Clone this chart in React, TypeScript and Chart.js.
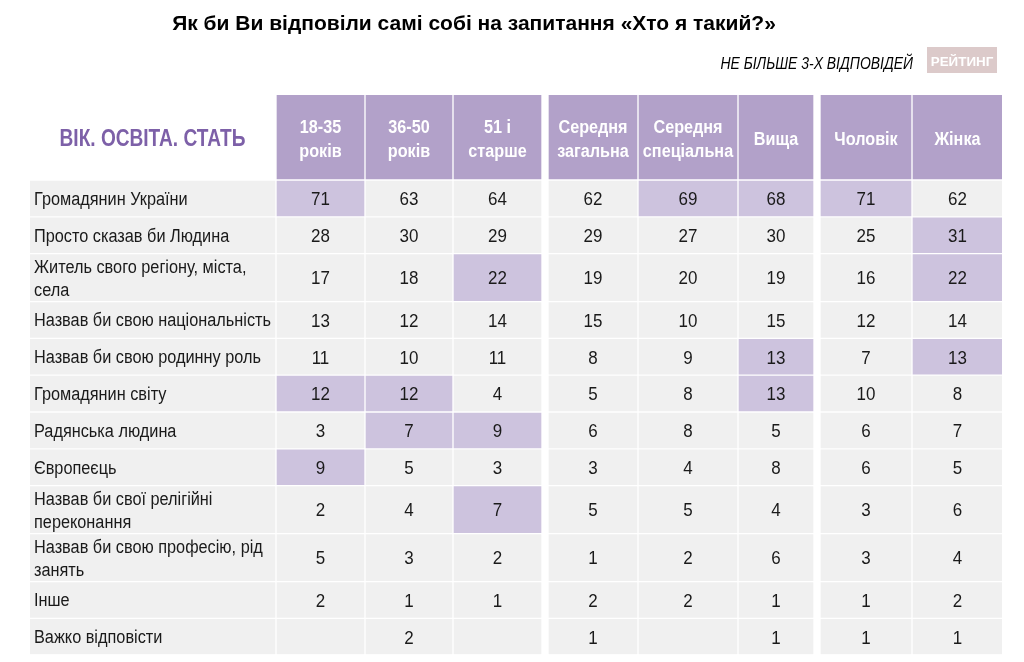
import React, { useEffect, useRef } from "react";
import { Chart, registerables } from "chart.js";

Chart.register(...registerables);

// ---------- content ----------
const TITLE = "Як би Ви відповіли самі собі на запитання «Хто я такий?»";
const SUBTITLE = "НЕ БІЛЬШЕ 3-Х ВІДПОВІДЕЙ";
const LOGO = "РЕЙТИНГ";
const CORNER_LABEL = "ВІК. ОСВІТА. СТАТЬ";

const ROW_LABELS = [
  "Громадянин України",
  "Просто сказав би Людина",
  "Житель свого регіону, міста,\nсела",
  "Назвав би свою національність",
  "Назвав би свою родинну роль",
  "Громадянин світу",
  "Радянська людина",
  "Європеєць",
  "Назвав би свої релігійні\nпереконання",
  "Назвав би свою професію, рід\nзанять",
  "Інше",
  "Важко відповісти",
];

const COLUMN_HEADERS = [
  "18-35\nроків",
  "36-50\nроків",
  "51 і\nстарше",
  "Середня\nзагальна",
  "Середня\nспеціальна",
  "Вища",
  "Чоловік",
  "Жінка",
];

const AGE_18_35 = [71, 28, 17, 13, 11, 12, 3, 9, 2, 5, 2, null];
const AGE_36_50 = [63, 30, 18, 12, 10, 12, 7, 5, 4, 3, 1, 2];
const AGE_51_PLUS = [64, 29, 22, 14, 11, 4, 9, 3, 7, 2, 1, null];
const EDU_GENERAL = [62, 29, 19, 15, 8, 5, 6, 3, 5, 1, 2, 1];
const EDU_SPECIAL = [69, 27, 20, 10, 9, 8, 8, 4, 5, 2, 2, null];
const EDU_HIGHER = [68, 30, 19, 15, 13, 13, 5, 8, 4, 6, 1, 1];
const MALE = [71, 25, 16, 12, 7, 10, 6, 6, 3, 3, 1, 1];
const FEMALE = [62, 31, 22, 14, 13, 8, 7, 5, 6, 4, 2, 1];

const SERIES: (number | null)[][] = [
  AGE_18_35, AGE_36_50, AGE_51_PLUS, EDU_GENERAL, EDU_SPECIAL, EDU_HIGHER, MALE, FEMALE,
];

// [row, column] of highlighted cells
const HIGHLIGHTS: [number, number][] = [
  [0, 0], [0, 4], [0, 5], [0, 6],
  [1, 7],
  [2, 2], [2, 7],
  [4, 5], [4, 7],
  [5, 0], [5, 1], [5, 5],
  [6, 1], [6, 2],
  [7, 0],
  [8, 2],
];

// ---------- layout / style ----------
const COLUMN_GROUP = [0, 0, 0, 1, 1, 1, 2, 2];
const LABEL_W = 245;
const COL_W = [87, 86, 87, 88, 98, 74, 90, 89];
const CELL_GAP = 2;
const GROUP_GAP = 8;
const HEADER_H = 84;
const ROW_H_SINGLE = 34.8;
const ROW_H_DOUBLE = 46;
const ROW_GAP = 2;
const TABLE_LEFT = 30;
const TABLE_TOP = 95;
const W = 1024;
const H = 662;

const GREY = "#f0f0f0";
const HEADER_PURPLE = "#b2a1c9";
const HIGHLIGHT = "#cdc3de";
const LABEL_PURPLE = "#7d60a8";
const TEXT = "#1a1a1a";
const FONT = '"Liberation Sans", Arial, sans-serif';

// column edges (in table units)
const colSpans: [number, number][] = [];
{
  let x = LABEL_W + CELL_GAP;
  for (let i = 0; i < COL_W.length; i++) {
    colSpans.push([x, x + COL_W[i]]);
    const next = COLUMN_GROUP[i + 1];
    x += COL_W[i] + (next !== undefined && next !== COLUMN_GROUP[i] ? GROUP_GAP : CELL_GAP);
  }
}
const TOTAL_W = colSpans[colSpans.length - 1][1];

const rowSpans: [number, number][] = [];
{
  let y = HEADER_H + ROW_GAP;
  for (const label of ROW_LABELS) {
    const h = label.includes("\n") ? ROW_H_DOUBLE : ROW_H_SINGLE;
    rowSpans.push([y, y + h]);
    y += h + ROW_GAP;
  }
}
const TOTAL_H = rowSpans[rowSpans.length - 1][1];

const isHighlighted = (r: number, c: number) => HIGHLIGHTS.some(([hr, hc]) => hr === r && hc === c);

// draws text horizontally condensed by sx (emulates a narrow face)
function drawText(ctx: CanvasRenderingContext2D, text: string, x: number, y: number, align: CanvasTextAlign, sx: number) {
  ctx.save();
  ctx.translate(x, y);
  ctx.scale(sx, 1);
  ctx.textAlign = align;
  ctx.fillText(text, 0, 0);
  ctx.restore();
}

function buildDatasets() {
  const labelDataset: any = {
    label: "labels",
    data: [{ x: LABEL_W / 2, y: [0, HEADER_H] }, ...rowSpans.map((s) => ({ x: LABEL_W / 2, y: s }))],
    backgroundColor: ["rgba(0,0,0,0)", ...rowSpans.map(() => GREY)],
    barThickness: LABEL_W,
    texts: [CORNER_LABEL, ...ROW_LABELS],
    kind: "label",
  };
  const columnDatasets = SERIES.map((values, c) => {
    const cx = (colSpans[c][0] + colSpans[c][1]) / 2;
    return {
      label: COLUMN_HEADERS[c].replace("\n", " "),
      data: [{ x: cx, y: [0, HEADER_H] }, ...rowSpans.map((s) => ({ x: cx, y: s }))],
      backgroundColor: [HEADER_PURPLE, ...values.map((_, r) => (isHighlighted(r, c) ? HIGHLIGHT : GREY))],
      barThickness: COL_W[c],
      texts: [COLUMN_HEADERS[c], ...values.map((v) => (v === null ? "" : String(v)))],
      kind: "value",
    };
  });
  return [labelDataset, ...columnDatasets];
}

const decorPlugin = {
  id: "decor",
  beforeDraw(chart: any) {
    const ctx = chart.ctx;
    ctx.save();
    ctx.fillStyle = "#ffffff";
    ctx.fillRect(0, 0, chart.width, chart.height);
    ctx.textBaseline = "middle";
    // title
    ctx.fillStyle = "#000000";
    ctx.font = `bold 21px ${FONT}`;
    drawText(ctx, TITLE, 474, 24, "center", 1);
    // subtitle
    ctx.font = `italic 17px ${FONT}`;
    drawText(ctx, SUBTITLE, 913, 64, "right", 0.82);
    // logo
    ctx.fillStyle = "#dccaca";
    ctx.fillRect(927, 47, 70, 26);
    ctx.fillStyle = "#ffffff";
    ctx.font = `bold 13px ${FONT}`;
    drawText(ctx, LOGO, 962, 62, "center", 1.03);
    ctx.restore();
  },
};

const textPlugin = {
  id: "cellText",
  afterDatasetsDraw(chart: any) {
    const ctx = chart.ctx;
    ctx.save();
    ctx.textBaseline = "middle";
    chart.data.datasets.forEach((ds: any, di: number) => {
      const meta = chart.getDatasetMeta(di);
      meta.data.forEach((el: any, j: number) => {
        const { x, y, base, width } = el.getProps(["x", "y", "base", "width"], true);
        const cy = (y + base) / 2;
        const text: string = ds.texts[j];
        if (!text) return;
        const lines = text.split("\n");
        if (ds.kind === "label") {
          if (j === 0) {
            ctx.font = `bold 23px ${FONT}`;
            ctx.fillStyle = LABEL_PURPLE;
            drawText(ctx, text, x, cy + 3, "center", 0.83);
          } else {
            ctx.font = `18px ${FONT}`;
            ctx.fillStyle = TEXT;
            const lh = 23;
            lines.forEach((ln, k) => {
              drawText(ctx, ln, x - width / 2 + 4, cy + 1.5 + (k - (lines.length - 1) / 2) * lh, "left", 0.905);
            });
          }
        } else {
          if (j === 0) {
            ctx.font = `bold 18px ${FONT}`;
            ctx.fillStyle = "#ffffff";
            const lh = 24;
            lines.forEach((ln, k) => {
              drawText(ctx, ln, x, cy + 3 + (k - (lines.length - 1) / 2) * lh, "center", 0.9);
            });
          } else {
            ctx.font = `17.5px ${FONT}`;
            ctx.fillStyle = TEXT;
            drawText(ctx, text, x, cy + 2, "center", 0.97);
          }
        }
      });
    });
    ctx.restore();
  },
};

export default function App() {
  const canvasRef = useRef<HTMLCanvasElement | null>(null);

  useEffect(() => {
    if (!canvasRef.current) return;
    const chart = new Chart(canvasRef.current, {
      type: "bar",
      data: { datasets: buildDatasets() as any },
      options: {
        animation: false,
        responsive: false,
        maintainAspectRatio: false,
        devicePixelRatio: 1,
        layout: {
          padding: {
            left: TABLE_LEFT,
            top: TABLE_TOP,
            right: W - TABLE_LEFT - TOTAL_W,
            bottom: H - TABLE_TOP - TOTAL_H,
          },
        },
        datasets: { bar: { grouped: false, borderWidth: 0 } } as any,
        scales: {
          x: { type: "linear", min: 0, max: TOTAL_W, display: false, offset: false },
          y: { type: "linear", min: 0, max: TOTAL_H, reverse: true, display: false },
        },
        plugins: {
          legend: { display: false },
          tooltip: { enabled: false },
          title: { display: false },
        },
      },
      plugins: [decorPlugin, textPlugin],
    });
    return () => chart.destroy();
  }, []);

  return (
    <div style={{ position: "fixed", left: 0, top: 0, width: W, height: H, background: "#fff" }}>
      <canvas ref={canvasRef} width={W} height={H} style={{ display: "block", width: W, height: H }} />
    </div>
  );
}
